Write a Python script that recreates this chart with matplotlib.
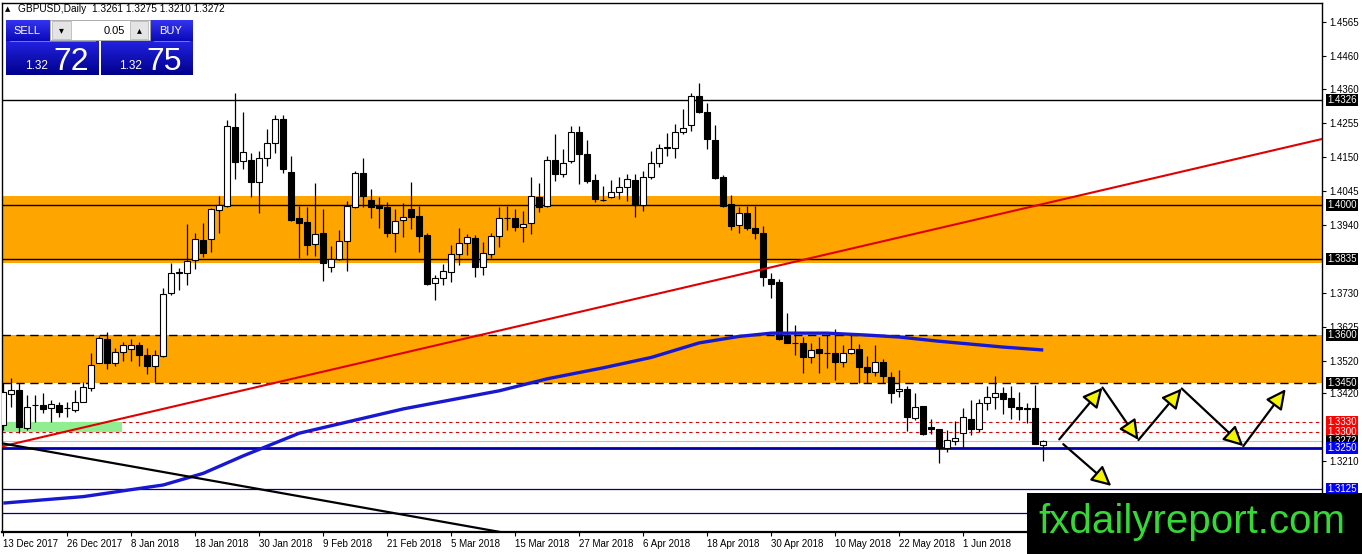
import matplotlib
matplotlib.use("Agg")
import matplotlib.pyplot as plt
import numpy as np
from matplotlib.patches import Rectangle
from matplotlib.colors import LinearSegmentedColormap
import matplotlib.transforms as mtransforms

plt.rcParams['font.family'] = ['Liberation Sans', 'DejaVu Sans']

# ---------------- data (GBPUSD daily, 13 Dec 2017 .. 15 Jun 2018) ----------------
date_labels = ["13 Dec 2017", "26 Dec 2017", "8 Jan 2018", "18 Jan 2018", "30 Jan 2018",
               "9 Feb 2018", "21 Feb 2018", "5 Mar 2018", "15 Mar 2018", "27 Mar 2018",
               "6 Apr 2018", "18 Apr 2018", "30 Apr 2018", "10 May 2018", "22 May 2018",
               "1 Jun 2018"]

opens = [1.3321, 1.3416, 1.3429, 1.3312, 1.3383, 1.3383, 1.3373, 1.3383, 1.3373, 1.3367,
         1.3392, 1.3435, 1.3512, 1.3587, 1.3512, 1.3546, 1.3556, 1.3568, 1.3537, 1.3503,
         1.3534, 1.3728, 1.3790, 1.3790, 1.3831, 1.3892, 1.3896, 1.3985, 1.3997, 1.4242,
         1.4137, 1.4140, 1.4071, 1.4146, 1.4192, 1.4266, 1.4103, 1.3960, 1.3948, 1.3880,
         1.3914, 1.3809, 1.3834, 1.3889, 1.3994, 1.4100, 1.4016, 1.4001, 1.3994, 1.3914,
         1.3954, 1.3988, 1.3967, 1.3908, 1.3759, 1.3775, 1.3793, 1.3849, 1.3883, 1.3899,
         1.3809, 1.3849, 1.3905, 1.3960, 1.3960, 1.3932, 1.3945, 1.4026, 1.3997, 1.4140,
         1.4097, 1.4137, 1.4226, 1.4158, 1.4078, 1.4016, 1.4025, 1.4041, 1.4057, 1.4078,
         1.4001, 1.4087, 1.4131, 1.4177, 1.4177, 1.4226, 1.4248, 1.4337, 1.4288, 1.4202,
         1.4087, 1.4004, 1.3939, 1.3976, 1.3929, 1.3914, 1.3772, 1.3763, 1.3599, 1.3574,
         1.3574, 1.3531, 1.3556, 1.3543, 1.3543, 1.3515, 1.3543, 1.3556, 1.3500, 1.3485,
         1.3515, 1.3469, 1.3426, 1.3432, 1.3342, 1.3380, 1.3315, 1.3308, 1.3250, 1.3271,
         1.3296, 1.3339, 1.3308, 1.3389, 1.3407, 1.3420, 1.3404, 1.3376, 1.3373, 1.3373,
         1.3261]
highs = [1.3451, 1.3466, 1.3451, 1.3414, 1.3414, 1.3420, 1.3398, 1.3392, 1.3392, 1.3429,
         1.3454, 1.3543, 1.3596, 1.3608, 1.3559, 1.3577, 1.3587, 1.3577, 1.3559, 1.3553,
         1.3744, 1.3821, 1.3806, 1.3942, 1.3914, 1.3945, 1.3991, 1.4028, 1.4263, 1.4347,
         1.4288, 1.4162, 1.4168, 1.4235, 1.4279, 1.4279, 1.4152, 1.3997, 1.3994, 1.4068,
         1.3988, 1.3874, 1.3923, 1.4013, 1.4106, 1.4146, 1.4050, 1.4026, 1.4010, 1.3988,
         1.4007, 1.4071, 1.3997, 1.3914, 1.3784, 1.3818, 1.3877, 1.3929, 1.3911, 1.3908,
         1.3886, 1.3914, 1.3994, 1.3997, 1.3988, 1.3982, 1.4088, 1.4068, 1.4152, 1.4220,
         1.4174, 1.4245, 1.4245, 1.4201, 1.4097, 1.4060, 1.4078, 1.4088, 1.4097, 1.4097,
         1.4106, 1.4168, 1.4189, 1.4223, 1.4251, 1.4297, 1.4347, 1.4378, 1.4316, 1.4248,
         1.4094, 1.4031, 1.3994, 1.3997, 1.3997, 1.3936, 1.3790, 1.3772, 1.3667, 1.3630,
         1.3593, 1.3574, 1.3593, 1.3599, 1.3617, 1.3568, 1.3605, 1.3571, 1.3534, 1.3568,
         1.3525, 1.3485, 1.3491, 1.3442, 1.3420, 1.3380, 1.3339, 1.3308, 1.3305, 1.3333,
         1.3373, 1.3398, 1.3401, 1.3442, 1.3472, 1.3438, 1.3442, 1.3423, 1.3389, 1.3444,
         1.3275]
lows = [1.3305, 1.3376, 1.3296, 1.3305, 1.3330, 1.3358, 1.3330, 1.3345, 1.3345, 1.3361,
        1.3392, 1.3426, 1.3512, 1.3494, 1.3503, 1.3518, 1.3518, 1.3503, 1.3478, 1.3454,
        1.3531, 1.3722, 1.3738, 1.3753, 1.3803, 1.3840, 1.3856, 1.3914, 1.3994, 1.4082,
        1.4113, 1.4026, 1.3976, 1.4122, 1.4161, 1.4100, 1.3951, 1.3837, 1.3846, 1.3843,
        1.3766, 1.3794, 1.3831, 1.3797, 1.3991, 1.3994, 1.3960, 1.3930, 1.3902, 1.3856,
        1.3902, 1.3926, 1.3856, 1.3753, 1.3707, 1.3753, 1.3763, 1.3815, 1.3846, 1.3778,
        1.3784, 1.3837, 1.3871, 1.3923, 1.3920, 1.3886, 1.3911, 1.3979, 1.3994, 1.4075,
        1.4088, 1.4131, 1.4066, 1.4068, 1.4010, 1.4013, 1.4022, 1.4019, 1.4013, 1.3963,
        1.3982, 1.4082, 1.4118, 1.4152, 1.4146, 1.4220, 1.4229, 1.4285, 1.4174, 1.4082,
        1.3994, 1.3923, 1.3914, 1.3923, 1.3896, 1.3750, 1.3713, 1.3583, 1.3574, 1.3537,
        1.3482, 1.3512, 1.3482, 1.3497, 1.3460, 1.3500, 1.3540, 1.3451, 1.3451, 1.3472,
        1.3451, 1.3389, 1.3407, 1.3302, 1.3336, 1.3290, 1.3293, 1.3203, 1.3237, 1.3259,
        1.3253, 1.3290, 1.3299, 1.3367, 1.3370, 1.3355, 1.3339, 1.3336, 1.3327, 1.3262,
        1.3210]
closes = [1.3423, 1.3429, 1.3315, 1.3376, 1.3384, 1.3370, 1.3386, 1.3361, 1.3375, 1.3392,
          1.3438, 1.3506, 1.3590, 1.3512, 1.3546, 1.3568, 1.3568, 1.3537, 1.3503, 1.3537,
          1.3725, 1.3790, 1.3794, 1.3828, 1.3896, 1.3852, 1.3988, 1.4001, 1.4244, 1.4133,
          1.4164, 1.4071, 1.4146, 1.4192, 1.4266, 1.4113, 1.3954, 1.3945, 1.3877, 1.3911,
          1.3821, 1.3834, 1.3889, 1.3997, 1.4100, 1.4029, 1.3994, 1.3991, 1.3914, 1.3951,
          1.3964, 1.3964, 1.3905, 1.3756, 1.3775, 1.3796, 1.3849, 1.3883, 1.3902, 1.3809,
          1.3852, 1.3905, 1.3960, 1.3962, 1.3932, 1.3942, 1.4029, 1.3994, 1.4140, 1.4097,
          1.4131, 1.4226, 1.4158, 1.4075, 1.4019, 1.4017, 1.4041, 1.4057, 1.4081, 1.4001,
          1.4087, 1.4131, 1.4177, 1.4179, 1.4226, 1.4239, 1.4337, 1.4288, 1.4205, 1.4084,
          1.3997, 1.3936, 1.3976, 1.3929, 1.3914, 1.3778, 1.3756, 1.3587, 1.3575, 1.3576,
          1.3531, 1.3553, 1.3543, 1.3545, 1.3515, 1.3543, 1.3556, 1.3500, 1.3485, 1.3515,
          1.3472, 1.3420, 1.3432, 1.3346, 1.3376, 1.3293, 1.3308, 1.3250, 1.3274, 1.3280,
          1.3346, 1.3308, 1.3389, 1.3407, 1.3420, 1.3401, 1.3376, 1.3370, 1.3370, 1.3262,
          1.3272]

# moving average (blue), read at a few bars
ma_idx = [0, 10, 20, 25, 30, 37, 50, 62, 68, 75, 81, 87, 92, 96, 103, 108, 112, 117, 125, 130]
ma_val = [1.3080, 1.3100, 1.3136, 1.3172, 1.3226, 1.3296, 1.3371, 1.3427, 1.3464, 1.3498,
          1.3530, 1.3575, 1.3595, 1.3605, 1.3605, 1.3599, 1.3593, 1.3580, 1.3562, 1.3553]

# trend lines (bar index, price)
red_trend = [(0, 1.3256), (160, 1.4177)]
black_trend = [(0, 1.3264), (60, 1.3000)]

# zones and levels
upper_zone = (1.3822, 1.4028)
lower_zone = (1.3450, 1.3600)
black_levels = [1.4326, 1.4000, 1.3835]
dashed_levels = [1.3600, 1.3450]
red_levels = [1.3330, 1.3300]
bid_price = 1.3272
blue_levels = [1.3250, 1.3125, 1.3049]
green_box = (-0.5, 14.8, 1.3300, 1.3330)

# forecast arrows (bar index, price)
zigzag_x = [132.0, 137.4, 141.9, 147.3, 155.0, 160.3]
zigzag_y = [1.3277, 1.3437, 1.3275, 1.3434, 1.3256, 1.3432]
down_x = [132.5, 138.5]
down_y = [1.3262, 1.3133]

price_ticks = [1.4565, 1.4460, 1.4360, 1.4255, 1.4150, 1.4045, 1.3940, 1.3730,
               1.3625, 1.3520, 1.3420, 1.3210]

W, H = 1362, 554
fig = plt.figure(figsize=(W / 100, H / 100), dpi=100)
fig.patch.set_facecolor('white')
ax = fig.add_axes([2 / W, 22 / H, 1320 / W, 529 / H])
ax.set_xlim(-0.16, 164.84)
ax.set_ylim(1.29907, 1.4625)

# zones
ax.axhspan(*upper_zone, color='#FFA500', zorder=0, lw=0)
ax.axhspan(*lower_zone, color='#FFA500', zorder=0, lw=0)
for lv in black_levels:
    ax.axhline(lv, color='black', lw=1.0, zorder=1)
for lv in dashed_levels:
    ax.axhline(lv, color='black', lw=1.0, ls=(0, (6, 4)), zorder=1)
for lv in red_levels:
    ax.axhline(lv, color='#e00000', lw=0.8, ls=(0, (3, 3)), zorder=1)
ax.axhline(bid_price, color='#c0c0c0', lw=0.8, zorder=1)
ax.axhline(blue_levels[0], color='#0000b0', lw=2.0, zorder=1)
ax.axhline(blue_levels[1], color='#000080', lw=0.9, zorder=1)
ax.axhline(blue_levels[2], color='#000080', lw=0.9, zorder=1)
ax.add_patch(Rectangle((green_box[0], green_box[2]), green_box[1] - green_box[0],
                       green_box[3] - green_box[2], color='#90EE90', zorder=1, lw=0))

# candles
idx = np.arange(len(opens))
o = np.array(opens); h = np.array(highs); l = np.array(lows); c = np.array(closes)
ax.vlines(idx, l, h, color='black', lw=0.9, zorder=3)
up = c >= o
body_bottom = np.minimum(o, c)
body_h = np.abs(c - o)
ax.bar(idx[up], body_h[up], bottom=body_bottom[up], width=0.72, color='white',
       edgecolor='black', lw=0.8, zorder=4)
ax.bar(idx[~up], body_h[~up], bottom=body_bottom[~up], width=0.72, color='black',
       edgecolor='black', lw=0.8, zorder=4)

# moving average and trend lines
ax.plot(ma_idx, ma_val, color='#1818d0', lw=2.4, zorder=5, solid_capstyle='butt')
ax.axline(red_trend[0], red_trend[1], color='#e00000', lw=1.5, zorder=5)
ax.axline(black_trend[0], black_trend[1], color='black', lw=1.6, zorder=5)

# forecast arrows
def arrow(x0, y0, x1, y1):
    ax.annotate('', xy=(x1, y1), xytext=(x0, y0), zorder=6,
                arrowprops=dict(arrowstyle='-|>,head_length=1.2,head_width=0.6',
                                fc='#f4f400', ec='black', lw=1.6, shrinkA=0, shrinkB=0))

for i in range(len(zigzag_x) - 1):
    arrow(zigzag_x[i], zigzag_y[i], zigzag_x[i + 1], zigzag_y[i + 1])
arrow(down_x[0], down_y[0], down_x[1], down_y[1])

# axes styling
for s in ax.spines.values():
    s.set_color('black'); s.set_linewidth(1.0)
ax.spines['bottom'].set_linewidth(1.6)
ax.yaxis.tick_right()
ax.set_yticks(price_ticks)
ax.set_yticklabels([f"{p:.4f}" for p in price_ticks])
ax.tick_params(axis='y', length=3, width=0.8, pad=2, labelsize=7, colors='black')
ax.set_xticks(np.arange(0, 8 * len(date_labels), 8))
ax.set_xticklabels(date_labels)
ax.tick_params(axis='x', length=3, width=0.8, pad=2, labelsize=7)
for t in ax.get_xticklabels():
    t.set_ha('left')

# level labels on the price axis
trans = mtransforms.blended_transform_factory(ax.transAxes, ax.transData)
level_boxes = [(1.4326, 'black'), (1.4000, 'black'), (1.3835, 'black'), (1.3600, 'black'),
               (1.3450, 'black'), (1.3330, '#ff0000'), (1.3300, '#ff0000'),
               (1.3272, 'black'), (1.3250, '#0000ff'), (1.3125, '#0000ff')]
for p, col in level_boxes:
    ax.text(1.004, p, f"{p:.4f}", transform=trans, ha='left', va='center', fontsize=7,
            color='white', zorder=10, clip_on=False,
            bbox=dict(boxstyle='square,pad=0.1', fc=col, ec='none'))

# ---------------- overlay in pixel coordinates ----------------
ui = fig.add_axes([0, 0, 1, 1], zorder=10)
ui.patch.set_alpha(0)
ui.axis('off')

blue_top = LinearSegmentedColormap.from_list('bt', ['#3434f0', '#0a0ab8'])
blue_bot = LinearSegmentedColormap.from_list('bb', ['#2222e0', '#00008c'])
grad = np.linspace(0, 1, 50).reshape(-1, 1)

def grad_box(x0, x1, y0, y1, cmap):
    ui.imshow(grad, extent=[x0, x1, y1, y0], cmap=cmap, aspect='auto', zorder=1)

grad_box(6, 50, 20, 41, blue_top)
grad_box(150, 193, 20, 41, blue_top)
grad_box(6, 99, 41, 75, blue_bot)
grad_box(101, 193, 41, 75, blue_bot)
ui.plot([10, 95], [41, 41], color='#8080ff', lw=0.6, zorder=2)
ui.plot([154, 189], [41, 41], color='#8080ff', lw=0.6, zorder=2)
ui.add_patch(Rectangle((50, 20), 100, 20, fc='white', ec='#a0a0a0', lw=0.6, zorder=2))
ui.add_patch(Rectangle((52, 21), 19, 18, fc='#e4e4e4', ec='#b0b0b0', lw=0.5, zorder=3))
ui.add_patch(Rectangle((130, 21), 18, 18, fc='#e4e4e4', ec='#b0b0b0', lw=0.5, zorder=3))
ui.text(61.5, 30, '▾', fontsize=7, ha='center', va='center', zorder=4, family='DejaVu Sans')
ui.text(139, 30, '▴', fontsize=7, ha='center', va='center', zorder=4, family='DejaVu Sans')
ui.text(125, 30.5, '0.05', fontsize=8, ha='right', va='center', zorder=4)
ui.text(27, 31, 'SELL', fontsize=8, ha='center', va='center', color='white', zorder=4)
ui.text(171, 31, 'BUY', fontsize=8, ha='center', va='center', color='white', zorder=4)
ui.text(25, 69, '1.32', fontsize=8.5, ha='left', va='baseline', color='white', zorder=4)
ui.text(53, 70, '72', fontsize=23, ha='left', va='baseline', color='white', zorder=4)
ui.text(119, 69, '1.32', fontsize=8.5, ha='left', va='baseline', color='white', zorder=4)
ui.text(146, 70, '75', fontsize=23, ha='left', va='baseline', color='white', zorder=4)

ui.text(5, 9, '▲', fontsize=5, ha='left', va='center', zorder=4, family='DejaVu Sans')
ui.text(18, 9, 'GBPUSD,Daily  1.3261 1.3275 1.3210 1.3272', fontsize=7.3, ha='left',
        va='center', zorder=4)

ui.add_patch(Rectangle((1027, 493), 335, 61, fc='black', ec='none', zorder=5))
ui.text(1192, 522, 'fxdailyreport.com', fontsize=29, ha='center', va='center',
        color='#35d835', zorder=6)

ui.set_xlim(0, W)
ui.set_ylim(H, 0)

fig.savefig('out.png', dpi=100, facecolor='white')
